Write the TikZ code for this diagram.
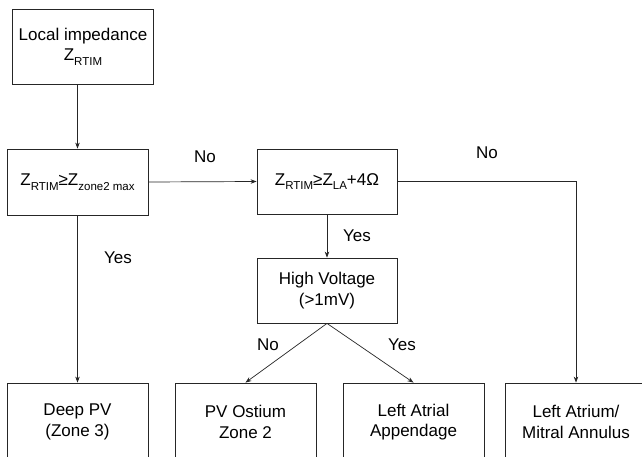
\documentclass[tikz,border=0pt]{standalone}
\usepackage{fontspec}
\setmainfont{Liberation Sans}
\usetikzlibrary{arrows.meta}
\newcommand\sbs[1]{\raisebox{-0.28em}{\fontsize{11.5}{12}\selectfont #1}}
\tikzset{
  box/.style={draw=black!85, line width=0.8pt, fill=white, inner sep=0pt, align=center,
    minimum width=141pt, font=\fontsize{17}{20.5}\selectfont},
  lbl/.style={inner sep=0pt, font=\fontsize{17}{20.5}\selectfont},
  arr/.style={draw=black!85, line width=0.7pt, -{Stealth[length=6pt,width=4.5pt]}}
}
\begin{document}
\begin{tikzpicture}[x=1pt,y=-1pt]
\clip (0,0) rectangle (642,457);
\fill[white] (0,0) rectangle (642,457);
\node[box, minimum height=75pt] (start) at (83,46.5) {Local impedance\\Z\sbs{RTIM}};
\node[box, minimum height=66pt] (q1) at (77.5,182) {Z\sbs{RTIM}≥Z\sbs{zone2 max}};
\node[box, minimum width=140pt, minimum height=65pt] (q2) at (327,181.5) {Z\sbs{RTIM}≥Z\sbs{LA}+4Ω};
\node[box, minimum width=140pt, minimum height=65pt] (q3) at (327,290.5) {High Voltage\\(>1mV)};
\node[box, minimum height=78pt] (deep) at (77.5,422) {Deep PV\\(Zone 3)};
\node[box, minimum height=78pt] (ost) at (245.5,422) {PV Ostium\\Zone 2};
\node[box, minimum height=78pt] (laa) at (413.5,422) {Left Atrial\\Appendage};
\node[box, minimum height=78pt] (la) at (576,422) {Left Atrium/\\Mitral Annulus};
\draw[arr] (start.south -| q1.north) -- (q1.north);
\draw[arr] (q1.east) -- (q2.west);
\draw[arr] (q2.east) -| (la.north);
\draw[arr] (q2.south) -- (q3.north);
\draw[arr] (q1.south) -- (deep.north);
\draw[arr] (q3.south) -- (ost.north);
\draw[arr] (q3.south) -- (laa.north);
\node[lbl] (no1) at (205,157) {No};
\node[lbl] (no2) at (487,153) {No};
\node[lbl] (yes1) at (357,236) {Yes};
\node[lbl] (yes2) at (118,258) {Yes};
\node[lbl] (no3) at (268,345) {No};
\node[lbl] (yes3) at (402,345) {Yes};
\end{tikzpicture}
\end{document}
